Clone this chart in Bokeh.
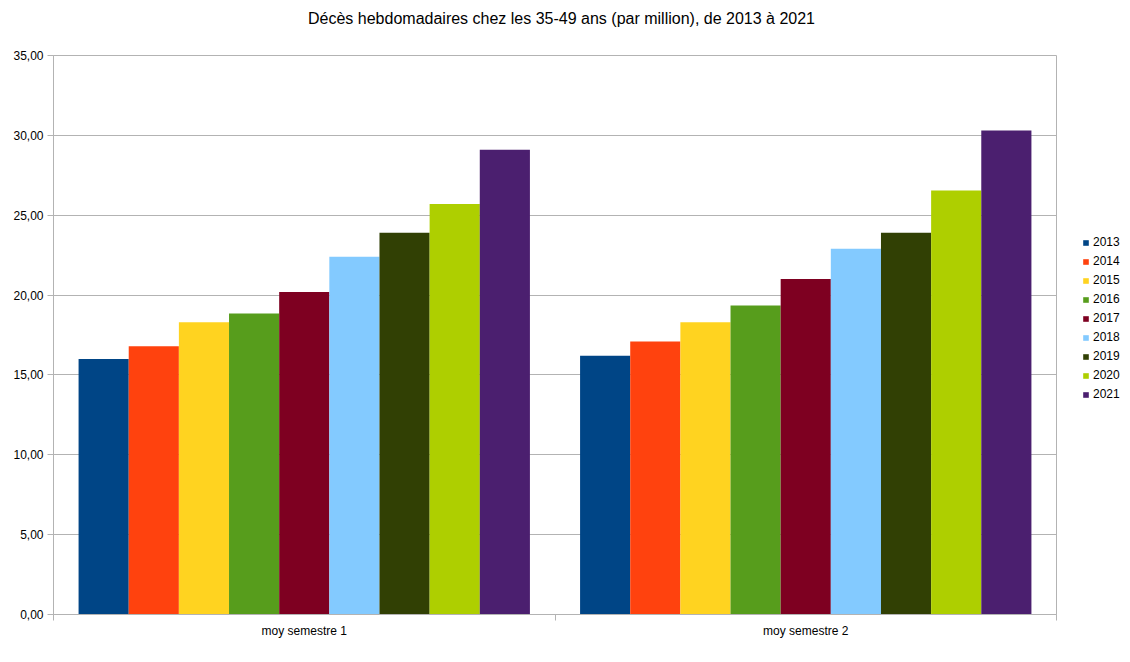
from bokeh.plotting import figure
from bokeh.layouts import row, column
from bokeh.models import FixedTicker, Legend, LegendItem, ColumnDataSource, Range1d, Label
from bokeh.embed import file_html
from bokeh.resources import INLINE

title = "Décès hebdomadaires chez les 35-49 ans (par million), de 2013 à 2021"
categories = ["moy semestre 1", "moy semestre 2"]
years = ["2013", "2014", "2015", "2016", "2017", "2018", "2019", "2020", "2021"]
semestre1 = [16.0, 16.8, 18.3, 18.85, 20.2, 22.4, 23.9, 25.7, 29.1]
semestre2 = [16.2, 17.1, 18.3, 19.35, 21.0, 22.9, 23.9, 26.55, 30.3]
colors = ["#004586", "#ff420e", "#ffd320", "#579d1c", "#7e0021",
          "#83caff", "#314004", "#aecf00", "#4b1f6f"]
y_ticks = [0, 5, 10, 15, 20, 25, 30, 35]
y_tick_labels = ["0,00", "5,00", "10,00", "15,00", "20,00", "25,00", "30,00", "35,00"]

FONT = "Liberation Sans"
GRID = "#b3b3b3"
TITLE_H = 30
H = 654 - TITLE_H
W = 1122
LEG_W = 65


def bare(fig):
    fig.axis.visible = False
    fig.grid.visible = False
    fig.outline_line_color = None
    fig.background_fill_color = "white"
    fig.border_fill_color = "white"


# title strip
tf = figure(width=W, height=TITLE_H, output_backend="svg", toolbar_location=None,
            x_range=Range1d(0, 1), y_range=Range1d(0, 1),
            min_border_left=0, min_border_right=0, min_border_top=0, min_border_bottom=0)
bare(tf)
tf.add_layout(Label(x=561, y=TITLE_H - 18, x_units="screen", y_units="screen", text=title,
                    text_align="center", text_baseline="middle", text_font=FONT,
                    text_font_size="16px", text_color="#000000"))

# main chart
p = figure(width=W - LEG_W, height=H, output_backend="svg", toolbar_location=None,
           x_range=Range1d(0, len(categories)), y_range=Range1d(0, 35),
           min_border_left=53, min_border_right=1, min_border_top=55 - TITLE_H,
           min_border_bottom=40)

n = len(years)
group_w = 0.9
bar_w = group_w / n
for j, yr in enumerate(years):
    xs = [i + (1 - group_w) / 2 + (j + 0.5) * bar_w for i in range(len(categories))]
    tops = [semestre1[j], semestre2[j]]
    src = ColumnDataSource(dict(x=xs, top=tops))
    p.vbar(x="x", top="top", width=bar_w, bottom=0, source=src,
           fill_color=colors[j], line_color=None)

xa = p.xaxis[0]
xa.ticker = FixedTicker(ticks=[i + 0.5 for i in range(len(categories))],
                        minor_ticks=list(range(len(categories) + 1)))
xa.major_label_overrides = {i + 0.5: c for i, c in enumerate(categories)}
xa.major_tick_out = 0
xa.major_tick_in = 0
xa.minor_tick_out = 6
xa.minor_tick_in = 0
xa.minor_tick_line_color = GRID
xa.axis_line_color = GRID
xa.major_label_text_font = FONT
xa.major_label_text_font_size = "12px"
xa.major_label_text_color = "#000000"
xa.major_label_standoff = 3

ya = p.yaxis[0]
ya.ticker = FixedTicker(ticks=y_ticks, minor_ticks=[])
ya.major_label_overrides = {t: l for t, l in zip(y_ticks, y_tick_labels)}
ya.major_tick_out = 6
ya.major_tick_in = 0
ya.major_tick_line_color = GRID
ya.axis_line_color = GRID
ya.major_label_text_font = FONT
ya.major_label_text_font_size = "12px"
ya.major_label_text_color = "#000000"
ya.major_label_standoff = 4

p.xgrid.visible = False
p.ygrid.grid_line_color = GRID
p.ygrid.ticker = FixedTicker(ticks=y_ticks)
p.outline_line_color = GRID
p.background_fill_color = "white"
p.border_fill_color = "white"

# legend strip (separate narrow figure so the legend sits outside the plot frame)
lg = figure(width=LEG_W, height=H, output_backend="svg", toolbar_location=None,
            x_range=Range1d(0, 1), y_range=Range1d(0, 1),
            min_border_left=0, min_border_right=0, min_border_top=0, min_border_bottom=0)
bare(lg)
items = []
for j, yr in enumerate(years):
    # key glyphs only: the point lies outside the visible range
    r = lg.vbar(x=[5], top=[5], bottom=[4], width=0.5, fill_color=colors[j], line_color=None)
    items.append(LegendItem(label=yr, renderers=[r]))
legend = Legend(items=items, location=(25, 213), glyph_width=7, glyph_height=7,
                label_height=14, spacing=5, padding=0, margin=0, label_standoff=4,
                label_text_font=FONT, label_text_font_size="12px", label_text_color="#000000",
                border_line_color=None, background_fill_alpha=0)
lg.add_layout(legend, "center")

layout = column(tf, row(p, lg, spacing=0), spacing=0)
open("out.html", "w").write(file_html(layout, INLINE))
